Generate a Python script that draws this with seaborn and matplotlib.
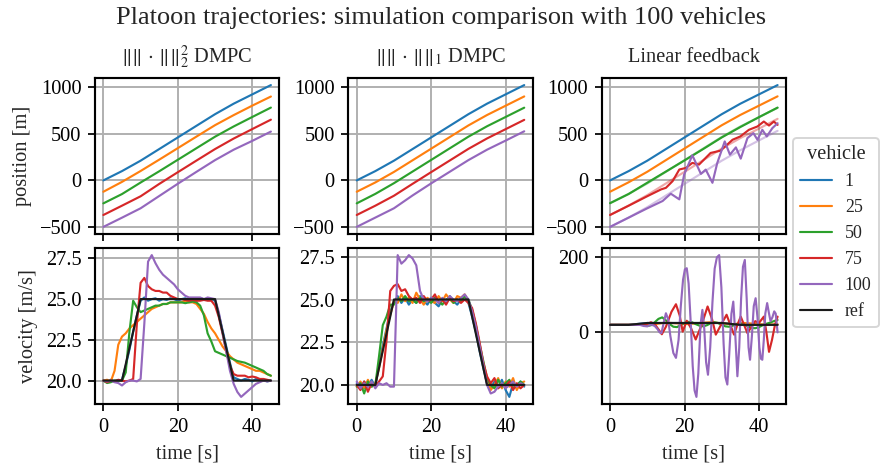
import numpy as np
import pandas as pd
import matplotlib
matplotlib.use("Agg")
import matplotlib.pyplot as plt
from matplotlib.font_manager import FontProperties
import seaborn as sns

# vehicles shown and their colours
vehicles = ["1", "25", "50", "75", "100"]
colors = ["#1f77b4", "#ff7f0e", "#2ca02c", "#d62728", "#9467bd"]
titles = [r"$\|\|\,\cdot\,\|\|_2^2$ DMPC", r"$\|\|\,\cdot\,\|\|_1$ DMPC",
          "Linear feedback"]

# reference velocity (breakpoints)
ref_t = [0, 5, 10, 30, 35, 45]
ref_v = [20, 20, 25, 25, 20, 20]

# positions sampled every 5 s
pos_t = [0, 5, 10, 15, 20, 25, 30, 35, 40, 45]
l2_pos = {
    "1": [0, 100, 212, 337, 462, 587, 712, 825, 925, 1025],
    "25": [-122, -16, 101, 223, 347, 471, 594, 702, 804, 902],
    "50": [-247, -147, -23, 98, 222, 346, 470, 580, 682, 783],
    "75": [-372, -272, -171, -38, 88, 213, 337, 450, 552, 653],
    "100": [-500, -401, -300, -168, -36, 92, 218, 330, 425, 525],
}
l1_pos = {
    "1": [0, 100, 212, 337, 462, 587, 712, 825, 925, 1025],
    "25": [-122, -22, 91, 216, 341, 466, 591, 703, 803, 903],
    "50": [-247, -145, -30, 95, 220, 345, 470, 582, 682, 782],
    "75": [-372, -272, -165, -37, 89, 214, 339, 451, 551, 651],
    "100": [-500, -400, -300, -162, -32, 93, 218, 330, 428, 528],
}
# linear feedback positions (own time stamps for the wavy ones)
lf_pos_1 = [0, 100, 212, 337, 462, 587, 712, 825, 925, 1025]
lf_pos_25 = [-122, -20, 93, 218, 343, 468, 593, 704, 804, 904]
lf_pos_50 = [-245, -146, -25, 95, 215, 337, 462, 574, 680, 783]
lf_pos_75_t = [0, 5, 10, 13.7, 15, 16.8, 18.6, 20.4, 22.1, 23.9, 27, 29.7,
               32.9, 35, 37.3, 39.6, 41.3, 42.7, 44, 45]
lf_pos_75 = [-372, -272, -170, -97, -80, -8, 117, 134, 188, 170, 295, 320,
             437, 473, 544, 580, 633, 590, 633, 597]
lf_pos_100_t = [0, 5, 10, 14.1, 16.3, 18.6, 19.9, 22.1, 24.4, 25.7, 27.5,
                28.8, 30.8, 32.2, 33.8, 35.1, 36.9, 38.5, 39.6, 40.9, 42.1,
                43.6, 45]
lf_pos_100 = [-500, -400, -300, -222, -143, -204, 63, 270, 70, 116, -26,
              188, 419, 277, 355, 234, 455, 508, 437, 544, 473, 562, 615]
# faint reference trajectories in the linear feedback panel
lf_ref_50 = [-245, -145, -33, 92, 217, 342, 467, 580, 680, 780]
lf_ref_75 = [-372, -270, -158, -33, 92, 217, 342, 455, 557, 662]
lf_ref_100 = [-500, -400, -288, -163, -38, 87, 212, 325, 430, 533]

# velocities sampled every 1 s
vel_t = list(range(46))
l2_vel = {
    "1": [20.0, 19.9, 20.05, 19.95, 20.0, 20.05, 20.9, 21.9, 23.0, 24.0, 24.9,
          25.1, 24.9, 25.0, 25.05, 24.9, 25.0, 24.95, 25.05, 25.0, 24.9, 25.0,
          25.05, 24.95, 25.0, 24.9, 25.05, 25.0, 24.95, 25.0, 24.9, 24.1, 23.1,
          22.1, 21.1, 20.2, 20.1, 20.0, 20.1, 20.05, 19.95, 20.1, 20.0, 20.05,
          19.95, 20.0],
    "25": [20.0, 20.05, 19.95, 20.6, 22.2, 22.7, 22.9, 23.2, 23.4, 23.6, 23.8,
           24.0, 24.2, 24.4, 24.5, 24.6, 24.7, 24.7, 24.8, 24.8, 24.8, 24.8,
           24.9, 24.8, 24.8, 24.7, 24.4, 24.1, 23.6, 23.2, 22.9, 22.5, 22.1,
           21.8, 21.5, 21.3, 21.1, 21.0, 20.9, 20.8, 20.7, 20.6, 20.6, 20.5,
           20.4, 20.3],
    "50": [20.0, 19.85, 19.9, 20.0, 20.0, 20.0, 20.5, 23.0, 24.9, 24.5, 24.2,
           24.3, 24.4, 24.5, 24.6, 24.6, 24.7, 24.7, 24.8, 24.8, 24.8, 24.8,
           24.75, 24.8, 24.85, 24.8, 24.6, 24.0, 22.9, 22.4, 21.8, 21.7, 21.6,
           21.5, 21.4, 21.3, 21.2, 21.15, 21.1, 21.0, 20.9, 20.8, 20.7, 20.6,
           20.4, 20.3],
    "75": [20.0, 19.9, 20.0, 19.95, 20.05, 20.0, 19.95, 20.0, 20.1, 23.5, 26.0,
           26.3, 25.8, 25.6, 25.5, 25.5, 25.4, 25.4, 25.2, 25.1, 25.0, 25.0,
           24.95, 24.9, 24.95, 24.9, 24.9, 24.95, 24.9, 24.9, 24.6, 23.9, 22.9,
           21.8, 20.9, 20.4, 20.3, 20.3, 20.3, 20.2, 20.25, 20.2, 20.1, 20.1,
           20.05, 20.0],
    "100": [20.0, 19.95, 20.0, 19.9, 19.85, 19.7, 19.9, 20.0, 20.0, 19.95,
            20.1, 23.5, 27.3, 27.7, 27.2, 26.8, 26.5, 26.3, 26.1, 25.9, 25.6,
            25.4, 25.2, 25.1, 25.1, 25.1, 25.1, 25.0, 25.1, 25.05, 25.0, 24.2,
            23.0, 21.8, 20.6, 19.8, 19.3, 19.0, 19.2, 19.4, 19.6, 19.8, 19.9,
            20.0, 19.95, 20.0],
}
l1_vel = {
    "1": [20.1, 19.8, 20.2, 19.9, 20.3, 19.9, 21.2, 22.3, 23.3, 24.3, 24.8,
          25.2, 24.8, 25.1, 24.7, 25.0, 24.8, 25.2, 24.9, 24.7, 25.1, 24.8,
          24.6, 25.0, 24.8, 25.2, 24.9, 24.7, 25.0, 25.2, 24.8, 24.0, 23.1,
          22.0, 21.0, 20.1, 19.8, 20.2, 19.9, 20.3, 19.7, 19.3, 20.1, 19.8,
          20.2, 19.9],
    "25": [19.9, 20.2, 19.8, 20.3, 19.9, 20.1, 21.0, 22.1, 23.2, 24.1, 24.9,
           24.8, 25.3, 24.9, 25.1, 24.8, 25.4, 25.0, 24.7, 25.1, 24.9, 24.8,
           25.2, 24.9, 25.3, 25.0, 24.8, 25.2, 25.1, 25.3, 24.9, 24.2, 23.3,
           22.2, 21.2, 20.3, 19.7, 20.0, 20.4, 19.8, 20.2, 19.9, 20.4, 19.7,
           20.1, 20.2],
    "50": [19.9, 20.1, 19.5, 20.2, 19.9, 20.0, 21.7, 23.5, 24.0, 24.7, 24.7,
           25.1, 24.9, 25.2, 24.9, 25.0, 24.8, 25.1, 24.9, 25.0, 24.8, 25.1,
           24.9, 24.7, 25.0, 25.1, 24.8, 25.0, 24.9, 25.2, 25.0, 24.4, 23.5,
           22.4, 21.4, 20.4, 20.0, 19.8, 20.3, 19.9, 20.1, 20.3, 19.8, 20.0,
           20.2, 20.0],
    "75": [20.0, 19.7, 20.2, 19.6, 20.1, 19.9, 20.2, 20.5, 22.6, 25.5, 25.8,
           25.9, 25.5, 25.6, 25.2, 25.0, 25.1, 24.8, 25.2, 24.9, 25.0, 25.3,
           24.8, 25.0, 24.7, 25.1, 24.9, 25.0, 24.8, 25.0, 24.8, 24.5, 23.6,
           22.5, 21.3, 20.5, 20.1, 20.4, 19.8, 20.0, 19.9, 20.2, 19.7, 20.1,
           19.8, 20.0],
    "100": [20.2, 19.8, 20.1, 19.9, 20.2, 19.8, 20.1, 20.0, 20.1, 19.9, 19.9,
            27.6, 27.1, 27.3, 27.6, 27.4, 27.0, 25.5, 25.0, 24.9, 25.1, 25.0,
            24.8, 25.1, 24.9, 25.2, 25.0, 24.9, 25.1, 25.3, 25.0, 24.3, 23.4,
            22.3, 21.2, 20.0, 19.5, 19.6, 19.9, 20.1, 19.8, 20.0, 20.2, 19.9,
            20.1, 20.0],
}
# linear feedback velocities
lf_vel_1_t = [0, 5, 10, 30, 35, 45]
lf_vel_1 = [20, 20, 25, 25, 20, 20]
lf_vel_25_t = [0, 3, 6, 9, 12, 15, 18, 21, 24, 27, 30, 33, 36, 39, 42, 45]
lf_vel_25 = [20, 20, 20, 20, 22, 26, 24, 22, 25, 27, 24, 22, 25, 23, 20, 22]
lf_vel_50_t = [0, 9, 10, 11, 12, 13, 14, 15, 16, 17, 18, 19, 20, 21, 22, 23,
               24, 25, 26, 27, 28, 29, 30, 31, 32, 33, 34, 35, 36, 37, 38, 39,
               40, 41, 42, 43, 44, 45]
lf_vel_50 = [20, 20, 17, 19, 27, 36, 40, 32, 22, 15, 14, 20, 25, 28, 27, 22,
             18, 16, 19, 24, 27, 25, 20, 16, 15, 18, 22, 24, 21, 16, 12, 11,
             14, 19, 23, 26, 30, 33]
lf_vel_75_t = [0, 9, 10, 11, 12, 13, 13.9, 15, 16.5, 17.7, 18.7, 19.5, 20.6,
               21.8, 23.0, 24.6, 26.2, 27.4, 28.4, 29.8, 31.3, 32.3, 33.3,
               34.2, 35.1, 36.0, 36.9, 38.0, 39.0, 40.0, 41.3, 42.0, 42.7,
               43.5, 44.3, 45]
lf_vel_75 = [20, 20, 23, 27, 22, 8, -5, 15, 55, 75, 45, 2, 31, 10, -19, 20,
             69, 35, -6, 20, 47, 20, -6, 20, 42, 20, -2, 15, 30, 25, 42, 0,
             -52, -20, 20, 42]
lf_vel_100_t = [0, 5, 8, 9, 10, 11, 12, 12.8, 13.3, 13.8, 14.4, 15.0, 15.6,
                16.2, 17.0, 17.7, 18.4, 19.0, 19.6, 20.1, 20.6, 21.1, 21.7,
                22.2, 22.7, 23.2, 23.7, 24.3, 24.8, 25.3, 25.8, 26.3, 26.9,
                27.5, 28.1, 28.7, 29.3, 29.9, 30.5, 31.0, 31.5, 32.0, 32.6,
                33.1, 33.6, 34.2, 34.7, 35.2, 35.7, 36.2, 36.7, 37.2, 37.6,
                38.1, 38.6, 39.1, 39.6, 40.1, 40.5, 40.9, 41.3, 41.7, 42.2,
                42.7, 43.1, 43.6, 44.1, 44.5, 45]
lf_vel_100 = [20, 20, 20, 17, 16, 21, 17, 8, 0, -2, 25, 51, 35, -10, -55,
              -68, -20, 70, 140, 168, 171, 130, 20, -90, -155, -172, -110, 20,
              60, 10, -80, -113, -40, 80, 170, 200, 206, 120, -30, -120, -139,
              -60, 50, 82, 0, -117, -40, 90, 175, 193, 90, -40, -73, -10, 70,
              91, 40, -40, -70, -73, -20, 50, 78, 50, 30, 40, 56, 50, 0]

sns.set_theme(style="ticks", rc={
    "axes.grid": True,
    "grid.color": "#b0b0b0",
    "grid.linewidth": 1.0,
    "axes.edgecolor": "black",
    "axes.linewidth": 1.1,
    "xtick.color": "black",
    "ytick.color": "black",
    "xtick.major.size": 3.5,
    "ytick.major.size": 3.5,
    "xtick.major.width": 0.9,
    "ytick.major.width": 0.9,
    "legend.frameon": True,
})
serif = ["Liberation Serif", "DejaVu Serif"]
plt.rcParams["font.family"] = serif
plt.rcParams["mathtext.fontset"] = "stix"
plt.rcParams["font.size"] = 10
plt.rcParams["axes.labelsize"] = 10.5
plt.rcParams["axes.titlesize"] = 10.5
plt.rcParams["xtick.labelsize"] = 10.5
plt.rcParams["ytick.labelsize"] = 10.5

fig, axes = plt.subplots(2, 3, figsize=(883 / 140, 471 / 140), dpi=140,
                         sharex=True)
fig.subplots_adjust(left=0.1076, right=0.8901, top=0.8344, bottom=0.1423,
                    wspace=0.375, hspace=0.09)

lw = 1.1


def line(ax, x, y, color, label=None, alpha=1.0):
    sns.lineplot(x=x, y=y, color=color, ax=ax, lw=lw, alpha=alpha,
                 estimator=None, sort=False, label=label)


# DMPC columns
for col, (pos, vel) in enumerate([(l2_pos, l2_vel), (l1_pos, l1_vel)]):
    for v, c in zip(vehicles, colors):
        line(axes[0, col], pos_t, pos[v], c)
        line(axes[1, col], vel_t, vel[v], c, label=v)
    line(axes[1, col], ref_t, ref_v, "#1a1a1a", label="ref")

# linear feedback column
ax = axes[0, 2]
line(ax, pos_t, lf_ref_50, colors[2], alpha=0.4)
line(ax, pos_t, lf_ref_75, colors[3], alpha=0.4)
line(ax, pos_t, lf_ref_100, colors[4], alpha=0.4)
line(ax, pos_t, lf_pos_1, colors[0])
line(ax, pos_t, lf_pos_25, colors[1])
line(ax, pos_t, lf_pos_50, colors[2])
line(ax, lf_pos_75_t, lf_pos_75, colors[3])
line(ax, lf_pos_100_t, lf_pos_100, colors[4])

ax = axes[1, 2]
line(ax, lf_vel_1_t, lf_vel_1, colors[0])
line(ax, lf_vel_25_t, lf_vel_25, colors[1])
line(ax, lf_vel_50_t, lf_vel_50, colors[2])
line(ax, lf_vel_75_t, lf_vel_75, colors[3])
line(ax, lf_vel_100_t, lf_vel_100, colors[4])
line(ax, ref_t, ref_v, "#1a1a1a")

for col in range(3):
    axes[0, col].set_title(titles[col], pad=8)
    axes[0, col].set_yticks([-500, 0, 500, 1000])
    axes[1, col].set_xlabel("time [s]")
    axes[1, col].set_xticks([0, 20, 40])
    for row in range(2):
        a = axes[row, col]
        a.set_ylabel("")
        for s in a.spines.values():
            s.set_visible(True)
        if a.get_legend() is not None:
            a.get_legend().remove()
axes[1, 0].set_yticks([20.0, 22.5, 25.0, 27.5])
axes[1, 1].set_yticks([20.0, 22.5, 25.0, 27.5])
axes[1, 2].set_yticks([0, 200])
axes[0, 0].set_ylabel("position [m]")
axes[1, 0].set_ylabel("velocity [m/s]")

handles, labels = axes[1, 0].get_legend_handles_labels()
fig.legend(handles, labels, title="vehicle", loc="center left",
           bbox_to_anchor=(0.898, 0.506),
           prop=FontProperties(family=serif, size=9.2),
           title_fontproperties=FontProperties(family=serif, size=10.5),
           framealpha=0.8, edgecolor="#cccccc", handlelength=1.8,
           handletextpad=0.7, borderaxespad=0.0)

fig.suptitle("Platoon trajectories: simulation comparison with 100 vehicles",
             fontsize=13.5, y=0.985)

fig.savefig("out.png", dpi=140)
